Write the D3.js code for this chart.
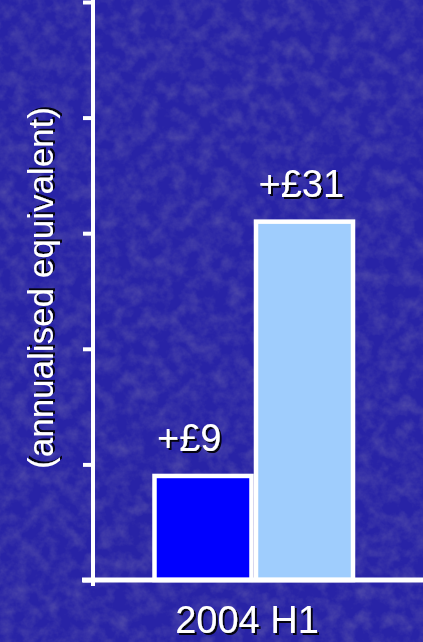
<!DOCTYPE html>
<html>
<head>
<meta charset="utf-8">
<script src="https://cdn.jsdelivr.net/npm/d3@7"></script>
<style>
  body { margin: 0; background: #24209c; }
  svg { display: block; }
  text { font-family: "Liberation Sans", Arial, sans-serif; fill: #fff; }
</style>
</head>
<body>
<div id="chart"></div>
<script>
// chart data
let categories = ["2004 H1"]
let seriesNames = ["first", "second"]
let seriesValues = [9, 31]
let valueLabels = ["+£9", "+£31"]
let seriesColors = ["#0000ff", "#9fcdfd"]
let yTicks = [0, 10, 20, 30, 40, 50]
let yTitle = "(annualised equivalent)"

let width = 423
let height = 642

let svg = d3.select("#chart")
    .append("svg")
    .attr("width", width)
    .attr("height", height)

let defs = svg.append("defs")

// mottled background texture: dark blue blotches over a brighter blue
let tex = defs.append("filter").attr("id", "tex")
    .attr("x", 0).attr("y", 0).attr("width", 1).attr("height", 1)
tex.append("feTurbulence")
    .attr("type", "fractalNoise")
    .attr("baseFrequency", 0.07)
    .attr("numOctaves", 4)
    .attr("seed", 7)
    .attr("result", "noise")
tex.append("feColorMatrix")
    .attr("in", "noise")
    .attr("type", "matrix")
    .attr("values", "0 0 0 0 0.07  0 0 0 0 0.06  0 0 0 0 0.40  -1.8 0 0 0 1.15")

// dark shadow under text
let shadow = defs.append("filter").attr("id", "shadow")
    .attr("x", "-20%").attr("y", "-20%").attr("width", "140%").attr("height", "140%")
shadow.append("feDropShadow")
    .attr("dx", 2).attr("dy", 2)
    .attr("stdDeviation", 0.6)
    .attr("flood-color", "#000")
    .attr("flood-opacity", 0.9)

svg.append("rect")
    .attr("width", width).attr("height", height)
    .attr("fill", "#2823a6")
svg.append("rect")
    .attr("width", width).attr("height", height)
    .attr("fill", "#fff")
    .attr("filter", "url(#tex)")

// scales
let y = d3.scaleLinear()
    .domain([0, 50])
    .range([580, 2])

let x = d3.scaleBand()
    .domain(categories)
    .range([152, 355])
    .padding(0)

let xSub = d3.scaleBand()
    .domain(seriesNames)
    .range([0, x.bandwidth()])
    .padding(0)

// bars
let bars = svg.append("g")
bars.selectAll("rect")
    .data(seriesValues)
    .enter()
    .append("rect")
    .attr("x", (d, i) => x(categories[0]) + xSub(seriesNames[i]) + 2.5)
    .attr("y", d => y(d))
    .attr("width", xSub.bandwidth() - 4.5)
    .attr("height", d => y(0) - y(d))
    .attr("fill", (d, i) => seriesColors[i])
    .attr("stroke", "#fff")
    .attr("stroke-width", 4.5)

// value labels
svg.append("g")
    .attr("filter", "url(#shadow)")
    .selectAll("text")
    .data(seriesValues)
    .enter()
    .append("text")
    .attr("x", (d, i) => x(categories[0]) + xSub(seriesNames[i]) + 5)
    .attr("y", d => y(d) - 25)
    .style("font-size", "38px")
    .text((d, i) => valueLabels[i])

// y axis
let yAxis = svg.append("g")
    .attr("transform", "translate(93,0)")
    .call(d3.axisLeft(y).tickValues(yTicks).tickSize(10).tickFormat(""))
yAxis.select(".domain").remove()
yAxis.selectAll(".tick line")
    .attr("stroke", "#fff")
    .attr("stroke-width", 4)
yAxis.append("line")
    .attr("x1", 0).attr("x2", 0)
    .attr("y1", 0).attr("y2", 586)
    .attr("stroke", "#fff")
    .attr("stroke-width", 4)

// x axis
svg.append("line")
    .attr("x1", 82).attr("x2", width)
    .attr("y1", y(0)).attr("y2", y(0))
    .attr("stroke", "#fff")
    .attr("stroke-width", 5)

svg.append("text")
    .attr("x", 247)
    .attr("y", 633)
    .attr("text-anchor", "middle")
    .attr("filter", "url(#shadow)")
    .style("font-size", "38px")
    .text(categories[0])

// y title
svg.append("text")
    .attr("transform", "translate(53,288) rotate(-90)")
    .attr("text-anchor", "middle")
    .attr("filter", "url(#shadow)")
    .style("font-size", "35px")
    .text(yTitle)
</script>
</body>
</html>
